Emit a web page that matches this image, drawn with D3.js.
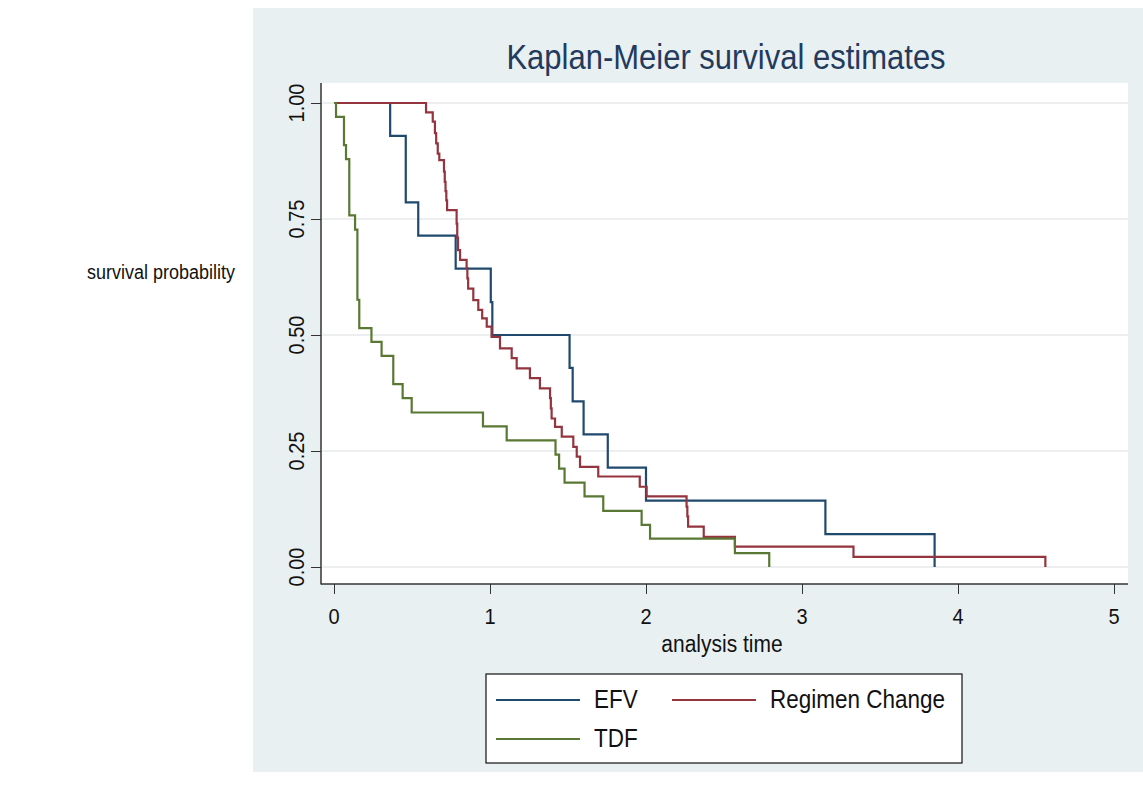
<!DOCTYPE html>
<meta charset="utf-8">
<body style="margin:0;background:#fff">
<script src="https://d3js.org/d3.v7.min.js"></script>
<script>

// Kaplan-Meier steps (analysis time, survival)
var efvTime = [0, 0.36, 0.46, 0.54, 0.78, 1.005, 1.015, 1.51, 1.53, 1.60, 1.755, 2.0, 3.15, 3.85];
var efvSurv = [1, 0.929, 0.786, 0.714, 0.643, 0.571, 0.5, 0.429, 0.357, 0.286, 0.214, 0.143, 0.071, 0];

var regTime = [0, 0.59, 0.633, 0.647, 0.655, 0.665, 0.675, 0.705, 0.71, 0.715, 0.72, 0.725, 0.786, 0.79,
               0.795, 0.808, 0.85, 0.855, 0.86, 0.893, 0.925, 0.95, 0.979, 1.01, 1.064, 1.139, 1.171,
               1.256, 1.32, 1.385, 1.39, 1.395, 1.417, 1.46, 1.534, 1.556, 1.577, 1.694, 1.96, 2.004,
               2.26, 2.265, 2.27, 2.37, 2.57, 3.33, 4.56];
var regSurv = [1, 0.98, 0.96, 0.935, 0.913, 0.891, 0.877, 0.852, 0.83, 0.81, 0.79, 0.769, 0.74, 0.71,
               0.683, 0.662, 0.644, 0.622, 0.60, 0.575, 0.554, 0.536, 0.518, 0.496, 0.471, 0.45, 0.428,
               0.407, 0.385, 0.364, 0.342, 0.320, 0.302, 0.281, 0.259, 0.238, 0.216, 0.195, 0.173, 0.152,
               0.13, 0.109, 0.087, 0.065, 0.044, 0.022, 0];

var tdfTime = [0, 0.013, 0.064, 0.077, 0.098, 0.135, 0.15, 0.162, 0.24, 0.305, 0.38, 0.44, 0.498,
               0.955, 1.107, 1.42, 1.443, 1.478, 1.606, 1.726, 1.972, 2.026, 2.57, 2.79];
var tdfSurv = [1, 0.97, 0.909, 0.879, 0.758, 0.727, 0.576, 0.515, 0.485, 0.455, 0.394, 0.364, 0.333,
               0.303, 0.273, 0.242, 0.212, 0.182, 0.152, 0.121, 0.091, 0.061, 0.030, 0];

var groups = ["EFV", "Regimen Change", "TDF"];
var xTicks = [0, 1, 2, 3, 4, 5];
var yTicks = [0, 0.25, 0.5, 0.75, 1];

var series = [
  {name: groups[0], t: efvTime, s: efvSurv, color: "#1f4a6e"},
  {name: groups[1], t: regTime, s: regSurv, color: "#94343f"},
  {name: groups[2], t: tdfTime, s: tdfSurv, color: "#5a7834"}
];

var W = 1143, H = 797;
var plot = {left: 321, right: 1128, top: 83, bottom: 584};
var stretch = 1.12;   // text in the picture is a little taller than it is wide
var font = "'Liberation Sans', Arial, sans-serif";

var svg = d3.select("body").append("svg")
    .attr("width", W)
    .attr("height", H)
    .style("display", "block");

// graph region (light bluish) and plot region (white)
svg.append("rect")
    .attr("x", 253).attr("y", 8)
    .attr("width", W - 253).attr("height", 764)
    .attr("fill", "#e9f0f2");

svg.append("rect")
    .attr("x", plot.left).attr("y", plot.top)
    .attr("width", plot.right - plot.left).attr("height", plot.bottom - plot.top)
    .attr("fill", "#fff");

var x = d3.scaleLinear().domain([0, 5]).range([334, 1114]);
var y = d3.scaleLinear().domain([0, 1]).range([567, 103]);

function label(g, px, py, str, size, anchor, rot, color) {
  return g.append("text")
      .attr("transform", "translate(" + px + "," + py + ")" + (rot ? " rotate(" + rot + ")" : "") +
            " scale(1," + stretch + ")")
      .attr("text-anchor", anchor || "middle")
      .style("font-family", font)
      .style("font-size", size + "px")
      .attr("fill", color || "#111")
      .text(str);
}

// gridlines
svg.append("g").selectAll("line")
  .data(yTicks)
  .enter().append("line")
    .attr("x1", plot.left + 1).attr("x2", plot.right)
    .attr("y1", d => y(d)).attr("y2", d => y(d))
    .attr("stroke", "#e6e9ea")
    .attr("stroke-width", 1.5);

// axes
var yAxis = d3.axisLeft(y).tickValues(yTicks).tickSize(10).tickFormat("");
var gy = svg.append("g")
    .attr("transform", "translate(" + plot.left + ",0)")
    .call(yAxis);
gy.select(".domain").remove();
gy.selectAll(".tick line").attr("stroke", "#333");
gy.append("line")
    .attr("y1", plot.top).attr("y2", plot.bottom + 0.5)
    .attr("stroke", "#333").attr("stroke-width", 1.5);
yTicks.forEach(function(v) {
  label(gy, -17, y(v), d3.format(".2f")(v), 20, "middle", -90);
});

var xAxis = d3.axisBottom(x).tickValues(xTicks).tickSize(10).tickFormat("");
var gx = svg.append("g")
    .attr("transform", "translate(0," + plot.bottom + ")")
    .call(xAxis);
gx.select(".domain").remove();
gx.selectAll(".tick line").attr("stroke", "#333");
gx.append("line")
    .attr("x1", plot.left).attr("x2", plot.right)
    .attr("stroke", "#333").attr("stroke-width", 1.5);
xTicks.forEach(function(v) {
  label(gx, x(v), 40, v, 20, "middle");
});

label(svg, 722, 652, "analysis time", 21, "middle");
label(svg, 235, 279, "survival probability", 18, "end");
label(svg, 726, 69, "Kaplan-Meier survival estimates", 31, "middle", 0, "#233a5c");

// survival curves
var line = d3.line()
    .x(d => x(d[0]))
    .y(d => y(d[1]))
    .curve(d3.curveStepAfter);

svg.append("g").selectAll("path")
  .data(series)
  .enter().append("path")
    .attr("d", d => line(d.t.map((t, i) => [t, d.s[i]])))
    .attr("fill", "none")
    .attr("stroke", d => d.color)
    .attr("stroke-width", 2.2);

// legend
var lg = svg.append("g");
lg.append("rect")
    .attr("x", 486).attr("y", 674)
    .attr("width", 476).attr("height", 89)
    .attr("fill", "#fff")
    .attr("stroke", "#111")
    .attr("stroke-width", 1.2);

var legendPos = [[496, 700], [672, 700], [496, 739]];
series.forEach(function(d, i) {
  var p = legendPos[i];
  lg.append("line")
      .attr("x1", p[0]).attr("x2", p[0] + 84)
      .attr("y1", p[1]).attr("y2", p[1])
      .attr("stroke", d.color)
      .attr("stroke-width", 2);
  label(lg, p[0] + 98, p[1] + 8, d.name, 22.5, "start");
});

</script>
</body>
